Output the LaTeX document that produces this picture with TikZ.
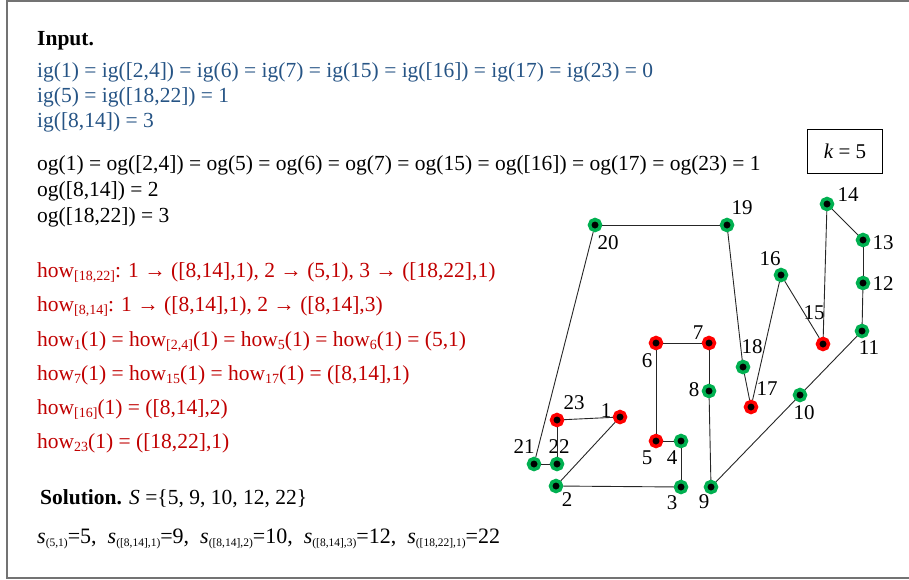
\documentclass[tikz,border=0pt]{standalone}
\usepackage{fontspec}
\setmainfont{Liberation Serif}
\usetikzlibrary{calc}
\definecolor{IgBlue}{RGB}{38,84,133}
\definecolor{HowRed}{RGB}{192,0,0}
\definecolor{VGreen}{RGB}{0,176,80}
\definecolor{VRed}{RGB}{255,0,0}
\newcommand{\lsub}[1]{\raisebox{-3pt}{\fontsize{14}{14}\selectfont #1}}
\newcommand{\ssub}[1]{\raisebox{-3pt}{\fontsize{11.5}{12}\selectfont #1}}

\begin{document}
\begin{tikzpicture}[x=1pt, y=-1pt,
    txt/.style={anchor=base west, inner sep=0pt, font=\fontsize{21.5}{25}\selectfont},
    vtx/.style={circle, fill=black, line width=3.5pt, minimum size=11pt, inner sep=0pt},
    lbl/.style={inner sep=0pt, font=\fontsize{21}{25}\selectfont},
    edge/.style={black!85, line width=0.9pt}
  ]
  \useasboundingbox (0,0) rectangle (909,579);
  \draw[black!55, line width=1.5pt] (7,1) rectangle (930,578);

  % Input
  \node[txt, font=\fontsize{21.5}{25}\selectfont\bfseries] (input) at (37,45) {Input.};
  \node[txt, text=IgBlue] (ig1) at (37,77)
    {ig(1) = ig([2,4]) = ig(6) = ig(7) = ig(15) = ig([16]) = ig(17) = ig(23) = 0};
  \node[txt, text=IgBlue] (ig2) at (37,102) {ig(5) = ig([18,22]) = 1};
  \node[txt, text=IgBlue] (ig3) at (37,127) {ig([8,14]) = 3};

  \node[txt] (og1) at (37,170)
    {og(1) = og([2,4]) = og(5) = og(6) = og(7) = og(15) = og([16]) = og(17) = og(23) = 1};
  \node[txt] (og2) at (37,196) {og([8,14]) = 2};
  \node[txt] (og3) at (37,222) {og([18,22]) = 3};

  % how
  \node[txt, text=HowRed] (how1) at (37,277)
    {how\lsub{[18,22]}: 1 → ([8,14],1), 2 → (5,1), 3 → ([18,22],1)};
  \node[txt, text=HowRed] (how2) at (37,311)
    {how\lsub{[8,14]}: 1 → ([8,14],1), 2 → ([8,14],3)};
  \node[txt, text=HowRed] (how3) at (37,346)
    {how\lsub{1}(1) = how\lsub{[2,4]}(1) = how\lsub{5}(1) = how\lsub{6}(1) = (5,1)};
  \node[txt, text=HowRed] (how4) at (37,380)
    {how\lsub{7}(1) = how\lsub{15}(1) = how\lsub{17}(1) = ([8,14],1)};
  \node[txt, text=HowRed] (how5) at (37,414) {how\lsub{[16]}(1) = ([8,14],2)};
  \node[txt, text=HowRed] (how6) at (37,448) {how\lsub{23}(1) = ([18,22],1)};

  % Solution
  \node[txt] (sol) at (40,504)
    {\textbf{Solution.} \textit{S} =\{5, 9, 10, 12, 22\}};
  \node[txt, font=\fontsize{22}{25}\selectfont] (sset) at (37,543)
    {\textit{s}\ssub{(5,1)}=5,\ \ \textit{s}\ssub{([8,14],1)}=9,\ \ \textit{s}\ssub{([8,14],2)}=10,\ \ \textit{s}\ssub{([8,14],3)}=12,\ \ \textit{s}\ssub{([18,22],1)}=22};

  \node[draw, line width=1pt, minimum width=75pt, minimum height=44pt,
        font=\fontsize{21}{25}\selectfont] (kbox) at (845,151) {\textit{k} = 5};

  % vertices: name/x/y/colour/label offset
  \foreach \n/\x/\y/\c/\dx/\dy in {
      1/620/417/VRed/-14/-6, 2/556/486/VGreen/11/14, 3/681/487/VGreen/-9/16,
      4/681/441/VGreen/-9/17, 5/656/441/VRed/-9/17, 6/656/343/VRed/-9/18,
      7/709/343/VRed/-11/-10, 8/709/391/VGreen/-15/-1, 9/711/487/VGreen/-7/15,
      10/800/395/VGreen/4/18, 11/862/331/VGreen/7/17, 12/863/283/VGreen/20/1,
      13/863/240/VGreen/20/3, 14/827/204/VGreen/21/-9, 15/823/344/VRed/-9/-31,
      16/781/275/VGreen/-11/-16, 17/751/407/VRed/16/-18, 18/743/367/VGreen/9/-20,
      19/727/225/VGreen/15/-17, 20/595/225/VGreen/13/18, 21/534/464/VGreen/-10/-17,
      22/557/464/VGreen/2/-17, 23/557/420/VRed/17/-17} {
    \node[vtx, draw=\c] (n\n) at (\x,\y) {};
    \node[lbl] (l\n) at ($(n\n)+(\dx,\dy)$) {\n};
  }

  % the tour
  \foreach \a/\b in {1/2, 2/3, 3/4, 4/5, 5/6, 6/7, 7/8, 8/9, 9/10, 10/11, 11/12,
      12/13, 13/14, 14/15, 15/16, 16/17, 17/18, 18/19, 19/20, 20/21, 21/22,
      22/23, 23/1}
    \draw[edge] (n\a) -- (n\b);
\end{tikzpicture}
\end{document}
